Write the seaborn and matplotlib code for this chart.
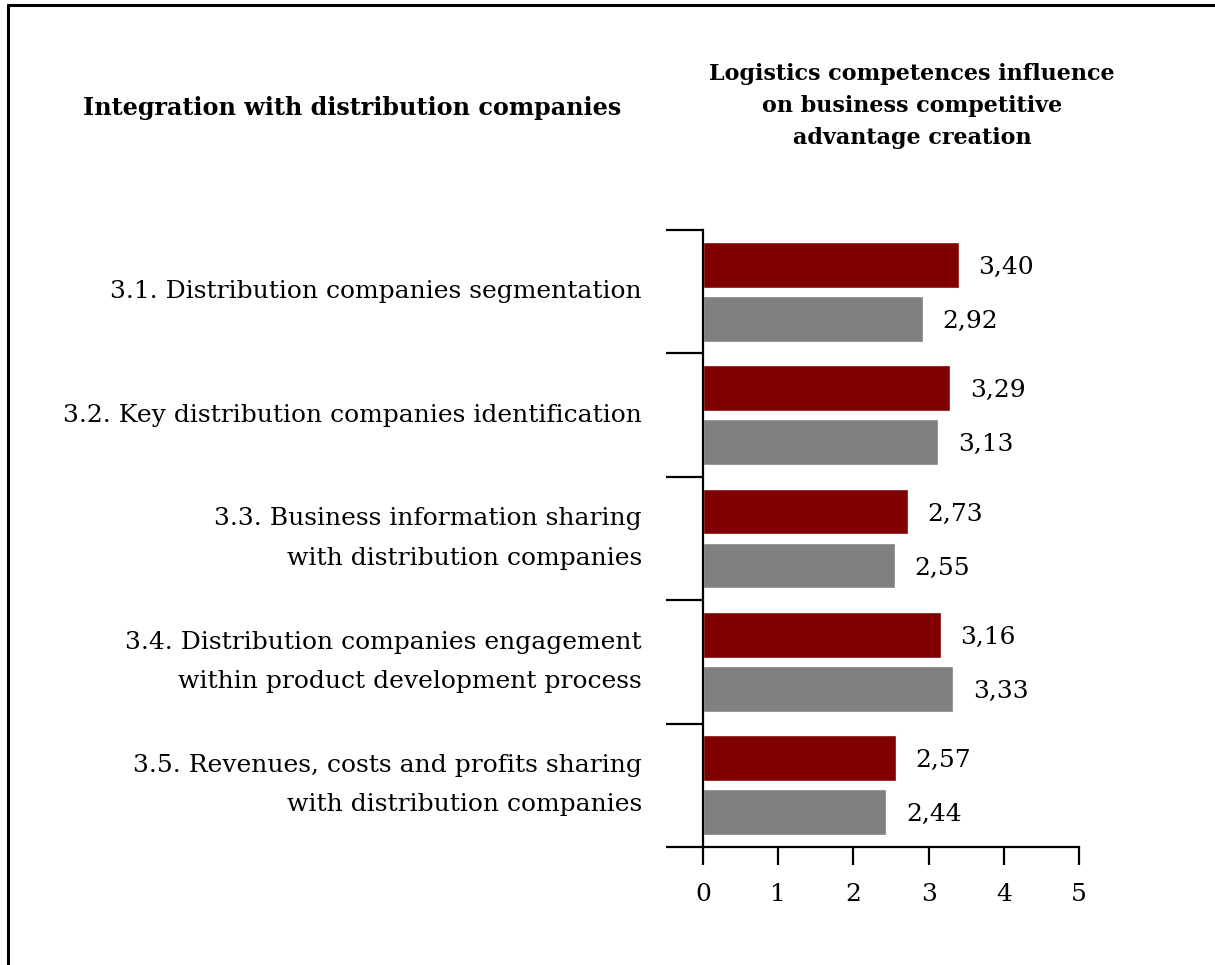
import numpy as np
import pandas as pd
import matplotlib
matplotlib.use("Agg")
import matplotlib.pyplot as plt
import seaborn as sns
from matplotlib.lines import Line2D

# Donnees
categories = [
    "3.1. Distribution companies segmentation",
    "3.2. Key distribution companies identification",
    "3.3. Business information sharing\nwith distribution companies",
    "3.4. Distribution companies engagement\nwithin product development process",
    "3.5. Revenues, costs and profits sharing\nwith distribution companies",
]
first_values = [3.40, 3.29, 2.73, 3.16, 2.57]
second_values = [2.92, 3.13, 2.55, 3.33, 2.44]
series_names = ["Series 1", "Series 2"]
x_ticks = [0, 1, 2, 3, 4, 5]

left_title = "Integration with distribution companies"
right_title = "Logistics competences influence\non business competitive\nadvantage creation"

df = pd.DataFrame({
    "category": categories * 2,
    "value": first_values + second_values,
    "series": [series_names[0]] * len(categories) + [series_names[1]] * len(categories),
})

sns.set_theme(style="white")
plt.rcParams["font.family"] = ["DejaVu Serif"]

fig = plt.figure(figsize=(12.15, 9.65), dpi=100)
ax = fig.add_axes([703 / 1215, 1 - 847 / 965, 376 / 1215, 617 / 965])

sns.barplot(data=df, y="category", x="value", hue="series", order=categories,
            palette=["#800000", "#808080"], width=0.875, gap=0.15, saturation=1,
            errorbar=None, legend=False, orient="h", ax=ax)

# Etiquettes des valeurs avec virgule decimale
for container in ax.containers:
    labels = [f"{v:.2f}".replace(".", ",") for v in container.datavalues]
    texts = ax.bar_label(container, labels=labels, padding=14, fontsize=18, color="black")
    for t in texts:
        t.set_verticalalignment("center_baseline")

ax.set_xlim(0, 5)
ax.set_ylim(len(categories) - 0.5, -0.5)
ax.set_xticks(x_ticks)
ax.set_xticklabels([str(t) for t in x_ticks])

bounds = np.arange(-0.5, len(categories), 1.0)
ax.set_yticks(bounds, labels=[""] * len(bounds))
ax.set_yticks(range(len(categories)), labels=categories, minor=True)

ax.tick_params(axis="y", which="major", left=True, length=27, width=1.6, direction="out", color="black")
ax.tick_params(axis="y", which="minor", left=True, length=0, pad=44, labelsize=18, labelcolor="black")
ax.tick_params(axis="x", which="major", bottom=True, length=13, width=1.6, direction="out",
               pad=13, labelsize=18, color="black", labelcolor="black")
for lab in ax.get_yticklabels(minor=True):
    lab.set_linespacing(1.9)
    lab.set_verticalalignment("center")

ax.set_xlabel("")
ax.set_ylabel("")
for side in ["top", "right"]:
    ax.spines[side].set_visible(False)
for side in ["left", "bottom"]:
    ax.spines[side].set_color("black")
    ax.spines[side].set_linewidth(1.6)

fig.text(352 / 1215, 1 - 108 / 965, left_title, ha="center", va="center",
         fontsize=17.2, fontweight="bold", color="black")
fig.text(912 / 1215, 1 - 106 / 965, right_title, ha="center", va="center",
         multialignment="center", linespacing=1.6, fontsize=16, fontweight="bold", color="black")

# Cadre haut et gauche
fig.add_artist(Line2D([8 / 1215, 8 / 1215], [0, 1 - 5 / 965], color="black", lw=2.2))
fig.add_artist(Line2D([8 / 1215, 1], [1 - 5 / 965, 1 - 5 / 965], color="black", lw=2.2))

fig.savefig("out.png", dpi=100)
